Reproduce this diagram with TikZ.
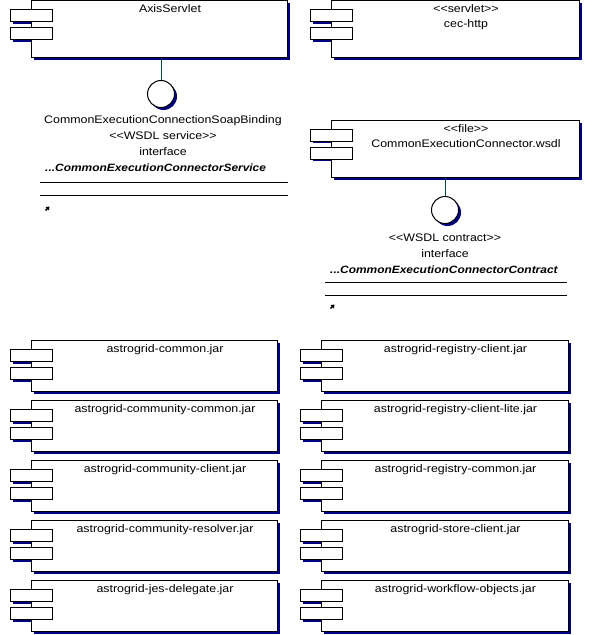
\documentclass[tikz,border=0pt]{standalone}
\usepackage{fontspec}
\setmainfont{Liberation Sans}[FakeStretch=1.13]
\usetikzlibrary{shadows,arrows.meta}
\definecolor{roseshadow}{HTML}{000080}
\definecolor{roseline}{HTML}{004848}
\tikzset{
  comp/.style={draw, fill=white, line width=1bp, inner sep=0pt, anchor=north west,
    drop shadow={shadow xshift=2.5bp, shadow yshift=-2.5bp, fill=roseshadow, opacity=1}},
  comptab/.style={draw, fill=white, line width=1bp, inner sep=0pt, anchor=north west,
    minimum width=42bp, minimum height=12bp},
  lolli/.style={circle, draw, fill=white, line width=1bp, inner sep=0pt, minimum size=27bp,
    drop shadow={shadow xshift=2.5bp, shadow yshift=-2.5bp, fill=roseshadow, opacity=1}},
  lbl/.style={anchor=base, inner sep=0pt},
  ifacetitle/.style={anchor=base west, inner sep=0pt, font=\fontsize{10.6}{13}\selectfont\bfseries\itshape},
  linkicon/.style={line width=1.6bp, -{Triangle[length=3.2bp, width=4.5bp]}},
}
\newcommand\guil[1]{<\kern0pt<#1>\kern0pt>}

\begin{document}
\begin{tikzpicture}[x=1bp, y=-1bp, font=\fontsize{11}{13}\selectfont]
\useasboundingbox (0,0) rectangle (592,635);

% components: body with two tabs on the left
\foreach \id/\x/\y/\w/\h in {axis/31/0.5/256/57, cec/331/0.5/248/57, wsdl/331/120/248/57,
    jar1/31/340/246/51, jar2/31/400/246/51, jar3/31/460/246/51, jar4/31/520/246/51, jar5/31/580/246/51,
    jar6/321/340/247/51, jar7/321/400/247/51, jar8/321/460/247/51, jar9/321/520/247/51, jar10/321/580/247/51} {
  \fill[roseshadow] ({\x-18.5},{\y+11.5}) rectangle ++(42,12);
  \fill[roseshadow] ({\x-18.5},{\y+29.5}) rectangle ++(42,12);
  \node[comp, minimum width=\w bp, minimum height=\h bp] (\id) at (\x,\y) {};
  \node[comptab] (\id-tab1) at ({\x-21},{\y+9}) {};
  \node[comptab] (\id-tab2) at ({\x-21},{\y+27}) {};
}

% names
\foreach \id/\txt in {axis/AxisServlet,
    jar1/astrogrid-common.jar, jar2/astrogrid-community-common.jar,
    jar3/astrogrid-community-client.jar, jar4/astrogrid-community-resolver.jar,
    jar5/astrogrid-jes-delegate.jar,
    jar6/astrogrid-registry-client.jar, jar7/astrogrid-registry-client-lite.jar,
    jar8/astrogrid-registry-common.jar, jar9/astrogrid-store-client.jar,
    jar10/astrogrid-workflow-objects.jar}
  \node[lbl] (\id-name) at ([xshift=10.5bp, yshift=-12.5bp]\id.north) {\txt};
\node[lbl] (cec-st) at ([xshift=10.5bp, yshift=-12bp]cec.north) {\guil{servlet}};
\node[lbl] (cec-name) at ([xshift=10.5bp, yshift=-27bp]cec.north) {cec-http};
\node[lbl] (wsdl-st) at ([xshift=10.5bp, yshift=-12.5bp]wsdl.north) {\guil{file}};
\node[lbl] (wsdl-name) at ([xshift=10.5bp, yshift=-28bp]wsdl.north) {CommonExecutionConnector.wsdl};

% service interface
\node[lolli] (soap) at (161,94) {};
\draw[roseline, line width=1bp] (soap.north) -- (soap.north |- axis.south);
\node[lbl] (soap-name) at (163,124) {CommonExecutionConnectionSoapBinding};
\node[lbl] (soap-st) at (163,140) {\guil{WSDL service}};
\node[lbl] (soap-kind) at (163,156) {interface};
\node[ifacetitle] (soap-title) at (45,172) {...CommonExecutionConnectorService};
\draw[line width=1bp] (40,182) -- (288,182);
\draw[line width=1bp] (40,195) -- (288,195);
\coordinate (soap-icon) at (45.5,210.5);
\draw[linkicon] (soap-icon) -- ++(4,-4);

% contract interface
\node[lolli] (contract) at (445,210) {};
\draw[roseline, line width=1bp] (contract.north) -- (contract.north |- wsdl.south);
\node[lbl] (contract-st) at (445,241) {\guil{WSDL contract}};
\node[lbl] (contract-kind) at (445,257) {interface};
\node[ifacetitle] (contract-title) at (330,273) {...CommonExecutionConnectorContract};
\draw[line width=1bp] (325,282) -- (567,282);
\draw[line width=1bp] (325,295) -- (567,295);
\coordinate (contract-icon) at (330.5,308.5);
\draw[linkicon] (contract-icon) -- ++(4,-4);
\end{tikzpicture}
\end{document}
